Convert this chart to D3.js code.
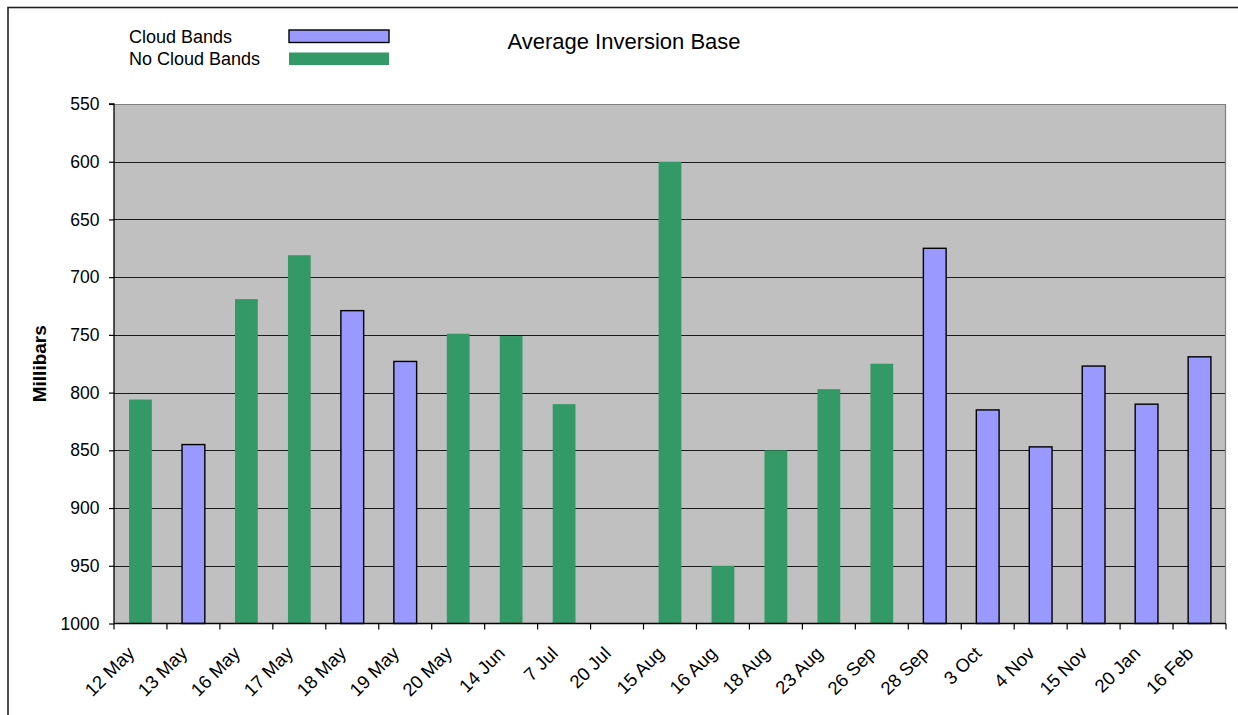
<!DOCTYPE html>
<html>
<head>
<meta charset="utf-8">
<script src="https://cdn.jsdelivr.net/npm/d3@7"></script>
<style>
  html, body { margin: 0; padding: 0; background: #fff; }
  svg { display: block; font-family: "Liberation Sans", Arial, sans-serif; }
</style>
</head>
<body>
<svg id="chart" width="1238" height="715"></svg>
<script>
// Sounding dates
const categories = ["12 May", "13 May", "16 May", "17 May", "18 May", "19 May", "20 May",
  "14 Jun", "7 Jul", "20 Jul", "15 Aug", "16 Aug", "18 Aug", "23 Aug", "26 Sep",
  "28 Sep", "3 Oct", "4 Nov", "15 Nov", "20 Jan", "16 Feb"];

// Average inversion base (mb) on days with cloud bands
const cloudBands = [null, 845, null, null, 729, 773, null, null, null, null, null,
  null, null, null, null, 675, 815, 847, 777, 810, 769];

// Average inversion base (mb) on days without cloud bands
const noCloudBands = [806, null, 719, 681, null, null, 749, 751, 810, null, 600,
  950, 850, 797, 775, null, null, null, null, null, null];

const yTicks = [550, 600, 650, 700, 750, 800, 850, 900, 950, 1000];

const seriesNames = ["Cloud Bands", "No Cloud Bands"];
const seriesColors = ["#9999FF", "#339966"];

const svg = d3.select("#chart");

// Outer chart frame
svg.append("rect")
  .attr("x", 8).attr("y", 7.5)
  .attr("width", 1300).attr("height", 800)
  .attr("fill", "#fff").attr("stroke", "#222").attr("stroke-width", 1.6);

const plot = { left: 114, right: 1226, top: 104, bottom: 623.5 };

const x = d3.scaleBand()
  .domain(categories)
  .range([plot.left, plot.right])
  .padding(0);

const y = d3.scaleLinear()
  .domain([550, 1000])
  .range([plot.top, plot.bottom]);

// Plot background
svg.append("rect")
  .attr("x", plot.left).attr("y", plot.top)
  .attr("width", plot.right - plot.left).attr("height", plot.bottom - plot.top)
  .attr("fill", "#C0C0C0");

// Horizontal gridlines
svg.append("g")
  .selectAll("line")
  .data(yTicks.filter(t => t !== 550 && t !== 1000))
  .join("line")
  .attr("x1", plot.left).attr("x2", plot.right)
  .attr("y1", d => Math.round(y(d)) + 0.5).attr("y2", d => Math.round(y(d)) + 0.5)
  .attr("stroke", "#1a1a1a").attr("stroke-width", 1);

// Plot area border (top and right)
svg.append("path")
  .attr("d", `M${plot.left},${plot.top + 0.5}H${plot.right - 0.5}V${plot.bottom}`)
  .attr("fill", "none").attr("stroke", "#808080").attr("stroke-width", 1.2);

// Bars
const barW = x.bandwidth() * 0.43;
const rows = categories.map((c, i) => ({ c, cloud: cloudBands[i], none: noCloudBands[i] }));

svg.append("g")
  .selectAll("rect")
  .data(rows.filter(d => d.none != null))
  .join("rect")
  .attr("x", d => x(d.c) + (x.bandwidth() - barW) / 2)
  .attr("y", d => y(d.none))
  .attr("width", barW)
  .attr("height", d => y(1000) - y(d.none))
  .attr("fill", seriesColors[1]);

svg.append("g")
  .selectAll("rect")
  .data(rows.filter(d => d.cloud != null))
  .join("rect")
  .attr("x", d => x(d.c) + (x.bandwidth() - barW) / 2)
  .attr("y", d => y(d.cloud))
  .attr("width", barW)
  .attr("height", d => y(1000) - y(d.cloud))
  .attr("fill", seriesColors[0])
  .attr("stroke", "#000").attr("stroke-width", 1.4);

// Y axis
const yAxis = svg.append("g")
  .attr("transform", `translate(${plot.left},0)`)
  .call(d3.axisLeft(y).tickValues(yTicks).tickSize(5).tickPadding(9.5).tickFormat(d3.format("d")));
yAxis.select(".domain").attr("stroke", "#000").attr("stroke-width", 1.3).attr("d", `M-5,${plot.top}H0V${plot.bottom}`);
yAxis.selectAll(".tick line").attr("stroke", "#000").attr("stroke-width", 1.2);
yAxis.selectAll(".tick text")
  .attr("font-size", 17.5).attr("fill", "#000")
  .attr("font-family", "Liberation Sans, Arial, sans-serif");

// X axis: tick marks on category boundaries, labels at category centres
const xAxis = svg.append("g")
  .attr("transform", `translate(0,${plot.bottom})`)
  .call(d3.axisBottom(x).tickSize(0).tickPadding(0));
xAxis.select(".domain").attr("stroke", "#000").attr("stroke-width", 1.3).attr("d", `M${plot.left},0H${plot.right}`);
xAxis.selectAll(".tick text")
  .attr("font-size", 18.5).attr("fill", "#000")
  .attr("font-family", "Liberation Sans, Arial, sans-serif")
  .attr("text-anchor", "end")
  .attr("dy", null)
  .attr("transform", "translate(-5,31) rotate(-45)");

svg.append("g")
  .selectAll("line")
  .data(d3.range(categories.length + 1))
  .join("line")
  .attr("x1", i => plot.left + i * x.step()).attr("x2", i => plot.left + i * x.step())
  .attr("y1", plot.bottom).attr("y2", plot.bottom + 6)
  .attr("stroke", "#000").attr("stroke-width", 1.2);

// Axis title
svg.append("text")
  .attr("transform", `translate(46,${(plot.top + plot.bottom) / 2}) rotate(-90)`)
  .attr("text-anchor", "middle")
  .attr("font-size", 19).attr("font-weight", "bold")
  .text("Millibars");

// Chart title
svg.append("text")
  .attr("x", 624).attr("y", 49)
  .attr("text-anchor", "middle")
  .attr("font-size", 22)
  .text("Average Inversion Base");

// Legend
const legend = svg.append("g");
seriesNames.forEach((name, i) => {
  const cy = 36 + i * 22.5;
  legend.append("text")
    .attr("x", 129).attr("y", cy + 6.5)
    .attr("font-size", 18)
    .text(name);
  legend.append("rect")
    .attr("x", 289).attr("y", cy - 6)
    .attr("width", 100).attr("height", 12.5)
    .attr("fill", seriesColors[i])
    .attr("stroke", i === 0 ? "#000" : "none")
    .attr("stroke-width", 1.4);
});
</script>
</body>
</html>
